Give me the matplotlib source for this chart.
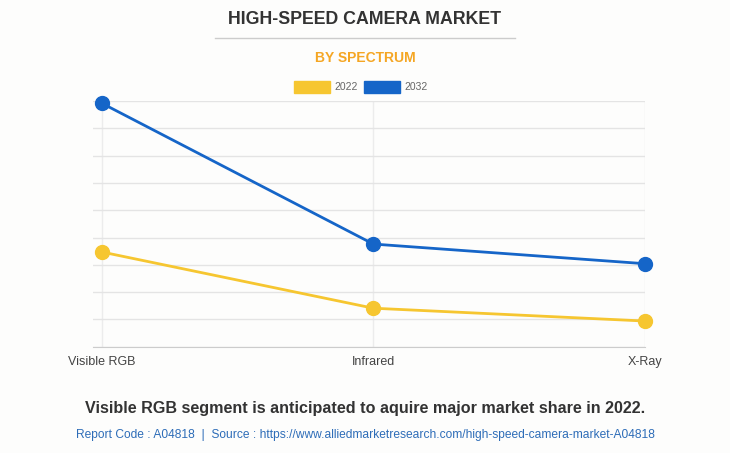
import matplotlib.pyplot as plt
from matplotlib.patches import Rectangle
from matplotlib.lines import Line2D

plt.rcParams['font.family'] = ['Liberation Sans', 'DejaVu Sans']

categories = ["Visible RGB", "Infrared", "X-Ray"]
values_2022 = [3.47, 1.41, 0.94]
values_2032 = [8.92, 3.76, 3.04]
series_labels = ["2022", "2032"]

YELLOW = "#f6c630"
BLUE = "#1565c8"
BG = "#fdfdfc"

W, H = 730, 453
fig = plt.figure(figsize=(W / 100, H / 100), dpi=100, facecolor=BG)

# plot area in pixel coords
left, right, top, bottom = 93, 645, 101, 346.7
ax = fig.add_axes([left / W, 1 - bottom / H, (right - left) / W, (bottom - top) / H])
ax.set_facecolor(BG)

x = list(range(len(categories)))
ax.plot(x, values_2032, color=BLUE, lw=2, marker="o", ms=10, zorder=3, clip_on=False)
ax.plot(x, values_2022, color=YELLOW, lw=2, marker="o", ms=10, zorder=3, clip_on=False)

ax.set_xlim(-8.7 / 271.7, 2)
ax.set_ylim(0, 9)
ax.set_yticks(range(0, 10))
ax.set_yticklabels([])
ax.set_xticks(x)
ax.set_xticklabels(categories, fontsize=9, color="#444444")
ax.tick_params(axis="both", length=0, pad=7)
ax.grid(axis="y", color="#e4e4e4", lw=1)
ax.grid(axis="x", color="#ececec", lw=1)
ax.set_axisbelow(True)
for s in ["top", "right", "left"]:
    ax.spines[s].set_visible(False)
ax.spines["bottom"].set_color("#cccccc")

# header
fig.text(365 / W, 1 - 20 / H, "HIGH-SPEED CAMERA MARKET", ha="center", va="center",
         fontsize=12.8, fontweight="bold", color="#333333")
fig.add_artist(Line2D([215 / W, 515 / W], [1 - 37.5 / H, 1 - 37.5 / H], color="#cccccc", lw=1))
fig.text(365 / W, 1 - 58 / H, "BY SPECTRUM", ha="center", va="center",
         fontsize=10, fontweight="bold", color="#f5a623")

# legend
for bx, tx, col, lab in [(294, 334, YELLOW, series_labels[0]), (364, 404, BLUE, series_labels[1])]:
    fig.add_artist(Rectangle((bx / W, 1 - 93 / H), 36 / W, 12 / H, color=col, transform=fig.transFigure))
    fig.text(tx / W, 1 - 87 / H, lab, ha="left", va="center", fontsize=7.5, color="#666666")

# footer
fig.text(365 / W, 1 - 408 / H, "Visible RGB segment is anticipated to aquire major market share in 2022.",
         ha="center", va="center", fontsize=11.6, fontweight="bold", color="#333333")
fig.text(365 / W, 1 - 435 / H,
         "Report Code : A04818  |  Source : https://www.alliedmarketresearch.com/high-speed-camera-market-A04818",
         ha="center", va="center", fontsize=8.65, color="#2e6db8")

fig.savefig("out.png", dpi=100, facecolor=BG)
